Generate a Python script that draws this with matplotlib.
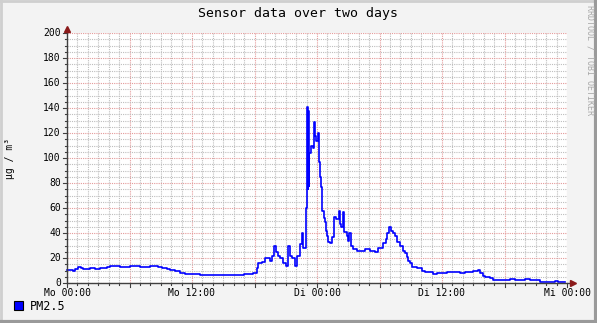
import matplotlib
matplotlib.use("Agg")
import matplotlib.pyplot as plt
from matplotlib.lines import Line2D
from matplotlib.patches import Rectangle
from matplotlib.ticker import MultipleLocator

# ---- data (hours since Mo 00:00, PM2.5 in µg/m³) ----
hours = [0.0, 0.29, 0.58, 0.77, 1.06, 1.34, 1.54, 1.82, 2.21, 2.69, 3.17, 3.84,
         4.13, 5.09, 6.05, 7.01, 7.97, 8.74, 9.12, 9.6, 9.89, 10.37, 10.85, 11.33,
         12.1, 12.77, 14.0, 15.5, 16.5, 17.0, 17.3, 17.86,
         18.24, 18.34, 18.72, 19.01, 19.49, 19.68, 19.87, 20.06, 20.26, 20.45,
         20.74, 21.02, 21.22, 21.41, 21.6, 21.89, 22.08, 22.37, 22.56, 22.66,
         22.94, 23.04, 23.09, 23.14, 23.19, 23.23, 23.42, 23.62, 23.71, 23.81,
         23.9, 24.1, 24.19, 24.29, 24.38, 24.48, 24.67, 24.77, 24.86, 24.96,
         25.06, 25.25, 25.44, 25.63, 25.82, 26.11, 26.21, 26.3, 26.5, 26.59,
         26.88, 26.98, 27.07, 27.26, 27.46, 27.84, 28.6, 29.09, 29.57, 29.86,
         30.34, 30.62, 30.72, 30.91, 31.1, 31.3, 31.49, 31.68, 31.97, 32.26,
         32.45, 32.64, 32.74, 32.93, 33.12, 33.6, 34.08, 34.37, 34.85, 35.14,
         35.52, 36.48, 37.25, 37.73, 38.21, 38.98, 39.46, 39.65, 39.94, 40.13,
         40.61, 40.9, 42.5, 43.0, 43.97, 44.45, 45.4, 46.85, 47.14, 47.6, 47.8]
pm25 = [10.5, 10.5, 9.5, 11, 12.5, 12, 11, 11.5, 12, 11.5, 12, 12.5,
        13.3, 13, 13.3, 13, 13.3, 13, 12, 11.5, 10.5, 9.5, 8, 7.5,
        7, 6.5, 6.5, 6.7, 6.5, 7, 7.5, 8,
        12, 16, 17, 20, 18, 22, 30, 25, 22, 20,
        16, 14, 30, 22, 20, 14, 22, 31, 40, 28,
        60, 141, 75, 138, 78, 104, 110, 108, 129, 118,
        114, 120, 97, 85, 77, 58, 52, 49, 42, 38,
        33, 32, 37, 53, 51, 58, 47, 45, 57, 41,
        38, 34, 40, 30, 27, 26, 27, 26, 25, 28,
        32, 35, 40, 45, 42, 40, 38, 33, 30, 26,
        24, 21, 18, 16, 13, 12, 10, 9, 8.5, 7,
        8, 8.5, 9, 8, 8.5, 9.6, 10.5, 8, 6, 5,
        4, 2.5, 3, 2.5, 3, 2.5, 1, 1.5, 1, 1, 1]

x_tick_pos = [0, 12, 24, 36, 48]
x_tick_labels = ["Mo 00:00", "Mo 12:00", "Di 00:00", "Di 12:00", "Mi 00:00"]
y_tick_pos = [0, 20, 40, 60, 80, 100, 120, 140, 160, 180, 200]

title = "Sensor data over two days"
ylabel = "µg / m³"
legend_label = "PM2.5"
watermark = "RRDTOOL / TOBI OETIKER"

# ---- figure ----
W, H = 597, 323
fig = plt.figure(figsize=(W / 100, H / 100), dpi=100, facecolor="#F3F3F3")
mono = "DejaVu Sans Mono"

# outer frame
fig.add_artist(Line2D([0, 1], [1 - 1 / H, 1 - 1 / H], transform=fig.transFigure, color="#CFCFCF", lw=2))
fig.add_artist(Line2D([1 / W, 1 / W], [0, 1], transform=fig.transFigure, color="#CFCFCF", lw=2))
fig.add_artist(Line2D([0, 1], [1.5 / H, 1.5 / H], transform=fig.transFigure, color="#9A9A9A", lw=3))
fig.add_artist(Line2D([1 - 1.5 / W, 1 - 1.5 / W], [0, 1], transform=fig.transFigure, color="#9A9A9A", lw=3))

x0, x1, y0, y1 = 67, 567, 283, 33
ax = fig.add_axes([x0 / W, (H - y0) / H, (x1 - x0) / W, (y0 - y1) / H])
ax.set_facecolor("white")
ax.set_xlim(0, 48)
ax.set_ylim(0, 200)

for s in ax.spines.values():
    s.set_visible(False)

# grid
ax.xaxis.set_minor_locator(MultipleLocator(1))
ax.xaxis.set_major_locator(MultipleLocator(6))
ax.yaxis.set_minor_locator(MultipleLocator(5))
ax.yaxis.set_major_locator(MultipleLocator(20))
ax.grid(which="minor", color="#BEBEBE", lw=0.8, ls=(0, (1, 1)))
ax.grid(which="major", color="#E49A9A", lw=0.8, ls=(0, (1, 1)))
ax.set_axisbelow(True)

ax.tick_params(which="both", length=0, labelbottom=False, labelleft=False)

# labels as text
for p, lab in zip(x_tick_pos, x_tick_labels):
    ax.text(p, -4, lab, ha="center", va="top", family=mono, fontsize=7, color="black")
for v in y_tick_pos:
    ax.text(-0.6, v, str(v), ha="right", va="center", family=mono, fontsize=7, color="black")

# small ticks on axes
for h in range(0, 49, 1):
    ax.plot([h, h], [0, -1.6 if h % 6 else -3], color="#404040", lw=0.8, clip_on=False)
for v in range(0, 201, 5):
    ax.plot([0, -0.2 if v % 20 else -0.35], [v, v], color="#404040", lw=0.8, clip_on=False)

# data
ax.plot(hours, pm25, drawstyle="steps-post", color="#0000FF", lw=1.2, clip_on=False, zorder=3)

# axes with arrows
ax.plot([0, 48.4], [0, 0], color="#404040", lw=1, clip_on=False, zorder=4)
ax.plot([0, 0], [0, 202], color="#404040", lw=1, clip_on=False, zorder=4)
ax.plot([48.6], [0], marker=">", color="#8B1A1A", ms=5, clip_on=False, zorder=5)
ax.plot([0], [203], marker="^", color="#8B1A1A", ms=5, clip_on=False, zorder=5)

# texts
fig.text(298 / W, 1 - 14 / H, title, ha="center", va="center", family=mono, fontsize=9.5, color="black")
fig.text(10 / W, 1 - 158 / H, ylabel, ha="center", va="center", rotation=90, family=mono, fontsize=7, color="black")
fig.text(590 / W, 1 - 60 / H, watermark, ha="center", va="center", rotation=-90, family=mono, fontsize=6, color="#A8A8A8")

# legend
fig.add_artist(Rectangle((14 / W, 1 - 310 / H), 9 / W, 9 / H, transform=fig.transFigure,
                         facecolor="#0000FF", edgecolor="black", lw=0.8))
fig.text(30 / W, 1 - 306 / H, legend_label, ha="left", va="center", family=mono, fontsize=8.5, color="black")

fig.savefig("out.png", dpi=100, facecolor=fig.get_facecolor())
